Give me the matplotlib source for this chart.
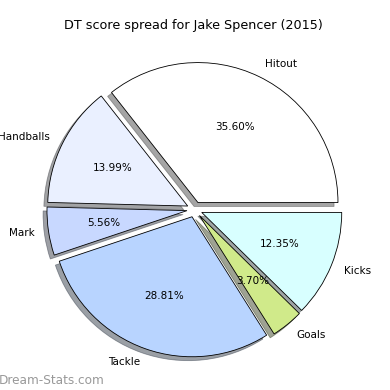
import matplotlib
matplotlib.use("Agg")
import matplotlib.pyplot as plt

labels = ["Hitout", "Handballs", "Mark", "Tackle", "Goals", "Kicks"]
points = [173, 68, 27, 140, 18, 60]
colors = ["#ffffff", "#eaf0ff", "#c8d8ff", "#b8d4ff", "#d0ea8a", "#d8ffff"]
explode = [0.055] * 6

fig = plt.figure(figsize=(3.9, 3.9), dpi=100)
ax = fig.add_axes([0, 0, 1, 1])
wedges, texts, autotexts = ax.pie(points, labels=labels, colors=colors, explode=explode,
                                  autopct="%.2f%%", shadow=True, startangle=0,
                                  wedgeprops=dict(edgecolor="black", linewidth=0.6),
                                  textprops=dict(fontsize=7.5))
cx, cy = 194.6, 180.5
ax.set_aspect("equal")
ax.set_xlim(-cx / 140, (390 - cx) / 140)
ax.set_ylim(-cy / 140, (390 - cy) / 140)
ax.axis("off")
fig.text(0.497, 0.935, "DT score spread for Jake Spencer (2015)", ha="center", va="center", fontsize=9.2)
fig.text(-0.003, 0.025, "Dream-Stats.com", ha="left", va="center", fontsize=8.7, color="#999999")
fig.savefig("out.png", dpi=100)
